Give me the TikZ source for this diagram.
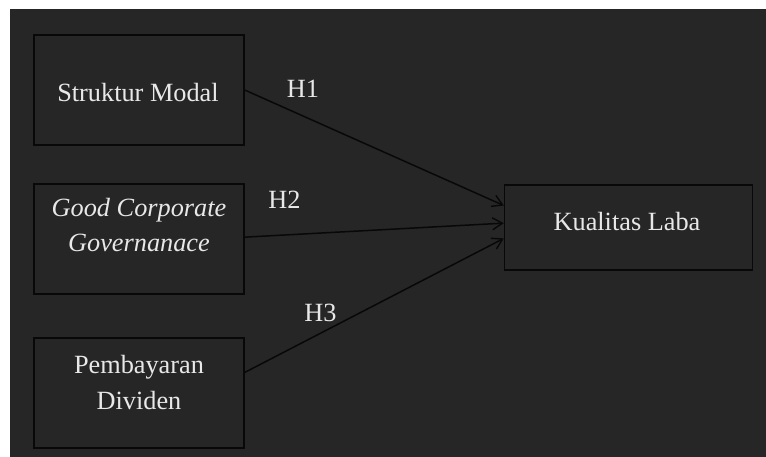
\documentclass[tikz,border=0pt]{standalone}
\usepackage{fontspec}
\setmainfont{Liberation Serif}
\usetikzlibrary{arrows.meta}
\definecolor{bgdark}{HTML}{262626}
\definecolor{txt}{HTML}{E8E8E8}
\definecolor{edge}{HTML}{080808}
\tikzset{
  box/.style={draw=edge, line width=1.4pt, fill=bgdark, rectangle, inner sep=0pt},
  lbl/.style={text=txt, font=\fontsize{26.3}{30}\selectfont, anchor=base, inner sep=0pt},
  conn/.style={draw=edge, line width=1.5pt, -{Straight Barb[length=10pt,width=12pt,line width=1.4pt]}}
}
\begin{document}
\begin{tikzpicture}[x=1pt,y=-1pt]
\useasboundingbox (0,0) rectangle (766,457);
\fill[white] (0,0) rectangle (766,457);
\fill[bgdark] (10,9) rectangle (766,457);
% boxes
\node[box, minimum width=210pt, minimum height=110pt] (b1) at (139,90) {};
\node[box, minimum width=210pt, minimum height=110pt] (b2) at (139,239) {};
\node[box, minimum width=210pt, minimum height=110pt] (b3) at (139,393) {};
\node[box, minimum width=248pt, minimum height=85pt] (kl) at (628.5,227.5) {};
% texts
\node[lbl] (t1) at (138,102) {Struktur Modal};
\node[lbl] (t2a) at (139,217) {\itshape Good Corporate};
\node[lbl] (t2b) at (139,252) {\itshape Governanace};
\node[lbl] (t3a) at (139,373) {Pembayaran};
\node[lbl] (t3b) at (139,409) {Dividen};
\node[lbl] (t4) at (627,231) {Kualitas Laba};
% connectors
\draw[conn] (b1.east) -- (kl.170.6);
\draw[conn] (b2.1) -- (kl.178.4);
\draw[conn] (b3.11.3) -- (kl.185.3);
% hypothesis labels
\node[lbl] (h1) at (303,98) {H1};
\node[lbl] (h2) at (284.5,209) {H2};
\node[lbl] (h3) at (320.5,321) {H3};
\end{tikzpicture}
\end{document}
